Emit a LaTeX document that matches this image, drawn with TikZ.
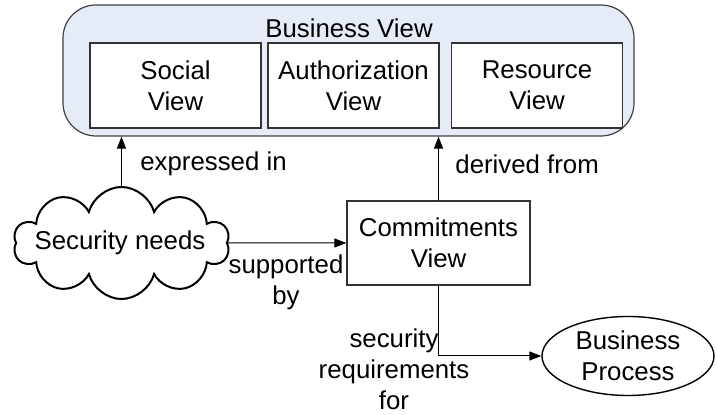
\documentclass[tikz,border=0pt]{standalone}
\usepackage{fontspec}
\setmainfont{Liberation Sans}
\usetikzlibrary{arrows.meta,shapes.geometric,shapes.symbols}
\definecolor{bvfill}{RGB}{230,236,247}
\tikzset{
  viewbox/.style={draw=black!80, fill=white, line width=0.6pt, minimum width=85.5pt, minimum height=42.5pt, align=center, inner sep=0pt},
  conn/.style={-{Triangle[length=6pt,width=4.5pt]}, line width=0.5pt},
  lbl/.style={align=center, inner sep=0pt},
}
\begin{document}
\begin{tikzpicture}[x=0.5pt,y=0.5pt,yscale=-1,xscale=1,font=\fontsize{12.9}{15.5}\selectfont]
\useasboundingbox (0,0) rectangle (717,415);

%Shape: Rounded Rect [id:busview]
\node [draw=black!75, fill=bvfill, line width=0.6pt, rounded corners=16.5pt, minimum width=285.5pt, minimum height=65.5pt, inner sep=0pt] (busview) at (348.5,70.5) {};
% Text Node
\node [lbl] (busviewtxt) at (349,28) {Business View};

%Shape: Rectangle [id:social]
\node [viewbox] (social) at (175.5,85.5) {Social\\View};
%Shape: Rectangle [id:authz]
\node [viewbox] (authz) at (353.5,85.5) {Authorization\\View};
%Shape: Rectangle [id:resource]
\node [viewbox] (resource) at (537,85.5) {Resource\\View};

%Shape: Cloud [id:secneeds]
\node [cloud, cloud puffs=10, aspect=2, draw, line width=1pt, minimum width=108pt, minimum height=56pt, inner sep=0pt] (secneeds) at (121.5,243) {};
% Text Node
\node [lbl] (secneedstxt) at (120,243) {Security needs};

%Shape: Rectangle [id:commit]
\node [draw=black!80, line width=0.6pt, minimum width=91.5pt, minimum height=42pt, align=center, inner sep=0pt] (commit) at (438.5,243) {Commitments\\View};

%Shape: Ellipse [id:bizproc]
\node [ellipse, draw, line width=0.7pt, minimum width=86pt, minimum height=39.5pt, inner sep=0pt, align=center] (bizproc) at (628,356) {Business\\Process};

%Straight Lines [id:expressed]
\draw [conn] (secneeds.north) -- (secneeds.north |- busview.south);
%Straight Lines [id:derived]
\draw [conn] (commit.north) -- (commit.north |- busview.south);
%Straight Lines [id:supported]
\draw [conn] (secneeds.east) -- (commit.west);
%Straight Lines [id:requirements]
\draw [conn] (commit.south) |- (bizproc.west);

% Text Node
\node [lbl, anchor=west] (expressedtxt) at (140,164) {expressed in};
% Text Node
\node [lbl, anchor=west] (derivedtxt) at (455,164) {derived from};
% Text Node
\node [lbl] (supportedtxt) at (286,282) {supported\\by};
% Text Node
\node [lbl] (requirementstxt) at (394,369) {security\\requirements\\for};

\end{tikzpicture}
\end{document}
